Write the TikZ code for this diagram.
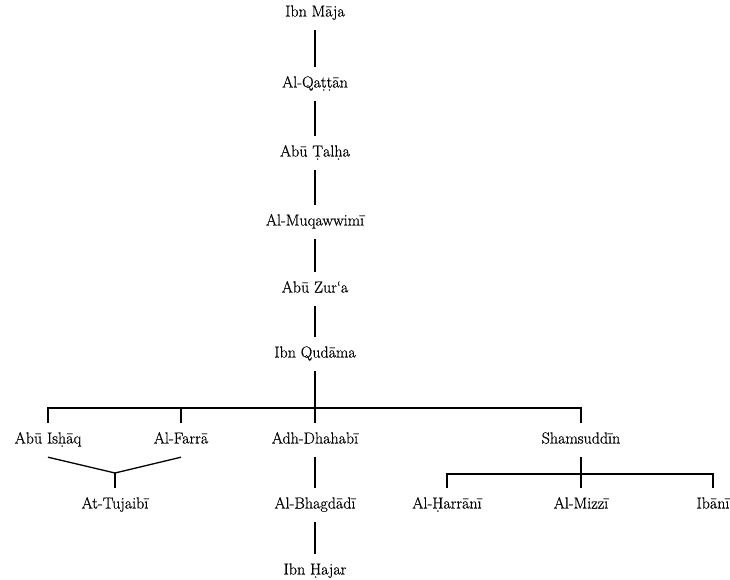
\documentclass[tikz,border=0pt]{standalone}
\usepackage{fontspec}
\usetikzlibrary{positioning}
\newfontfamily\namefont{Latin Modern Roman}[FakeBold=0.6]

\begin{document}
\begin{tikzpicture}[x=1pt, y=-1pt,
    person/.style={font=\namefont\fontsize{16}{18}\selectfont, inner xsep=0pt, inner ysep=9.5pt,
                   text height=11pt, text depth=4pt},
    link/.style={line width=1.3pt}
  ]
  \useasboundingbox (0,0) rectangle (730,580);

  % main chain
  \node[person] (maja)    at (315,  13) {Ibn Māja};
  \node[person] (qattan)  at (315,  84) {Al-Qaṭṭān};
  \node[person] (talha)   at (315, 153) {Abū Ṭalḥa};
  \node[person] (muqaw)   at (315, 222) {Al-Muqawwimī};
  \node[person] (zura)    at (315, 289) {Abū Zur‘a};
  \node[person] (qudama)  at (315, 354) {Ibn Qudāma};

  \draw[link] (maja)   -- (qattan);
  \draw[link] (qattan) -- (talha);
  \draw[link] (talha)  -- (muqaw);
  \draw[link] (muqaw)  -- (zura);
  \draw[link] (zura)   -- (qudama);

  % students of Ibn Qudama
  \node[person] (ishaq)   at ( 48, 440) {Abū Isḥāq};
  \node[person] (farra)   at (181, 440) {Al-Farrā};
  \node[person] (dhahabi) at (315, 440) {Adh-Dhahabī};
  \node[person] (shams)   at (581, 440) {Shamsuddīn};
  \coordinate (bar) at (315, 408);

  \draw[link] (qudama) -- (dhahabi);
  \draw[link] (ishaq.north) -- (ishaq.north |- bar) -| (shams.north);
  \draw[link] (farra.north) -- (farra.north |- bar);

  % At-Tujaibi
  \node[person] (tujaibi) at (115, 505) {At-Tujaibī};
  \coordinate (tujv) at (115, 473);
  \draw[link] (ishaq.south) -- (tujv) -- (farra.south);
  \draw[link] (tujv) -- (tujaibi.north);

  % Adh-Dhahabi line
  \node[person] (bhagdadi) at (315, 505) {Al-Bhagdādī};
  \node[person] (hajar)    at (315, 571) {Ibn Ḥajar};
  \draw[link] (dhahabi)  -- (bhagdadi);
  \draw[link] (bhagdadi) -- (hajar);

  % Shamsuddin
  \node[person] (harrani) at (447, 505) {Al-Ḥarrānī};
  \node[person] (mizzi)   at (581, 505) {Al-Mizzī};
  \node[person] (ibani)   at (713, 505) {Ibānī};
  \coordinate (subbar) at (581, 474);
  \draw[link] (shams) -- (mizzi);
  \draw[link] (harrani.north) |- (subbar) -| (ibani.north);
\end{tikzpicture}
\end{document}
